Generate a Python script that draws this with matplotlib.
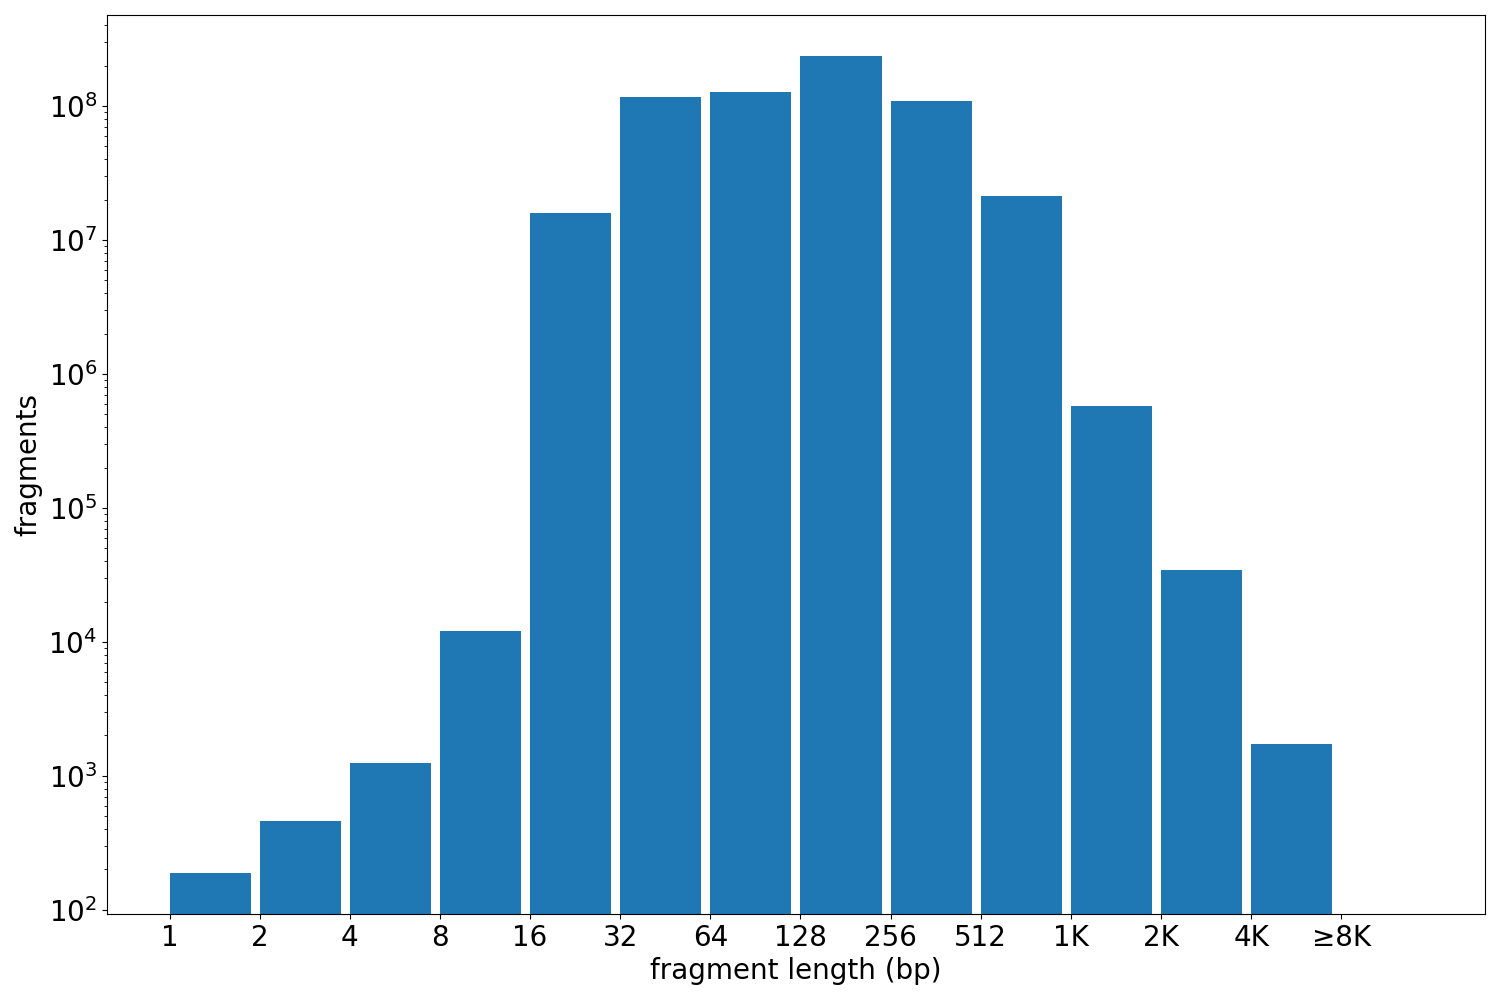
import matplotlib
matplotlib.use('Agg')
import matplotlib.pyplot as plt
import numpy as np

# fragment length histogram (log2 bins)
bin_labels = ['1', '2', '4', '8', '16', '32', '64', '128', '256', '512',
              '1K', '2K', '4K', '\u22658K']
counts = [189, 461, 1250, 12080, 1.59e7, 1.17e8, 1.27e8, 2.36e8, 1.09e8,
          2.13e7, 5.77e5, 3.44e4, 1733]

fig = plt.figure(figsize=(15, 10), dpi=100)
ax = fig.add_axes([0.0713, 0.086, 0.9187, 0.899])

x = np.arange(len(counts))
ax.bar(x, counts, width=0.9, align='edge', color='#1f77b4')
ax.set_yscale('log')
ax.set_ylim(93, 4.78e8)
ax.set_xlim(-0.695, 14.595)

ax.set_xticks(np.arange(len(bin_labels)))
ax.set_xticklabels(bin_labels)
ax.tick_params(axis='both', labelsize=20)
ax.set_xlabel('fragment length (bp)', fontsize=20)
ax.set_ylabel('fragments', fontsize=20)

fig.savefig('out.png', dpi=100)
plt.close(fig)
